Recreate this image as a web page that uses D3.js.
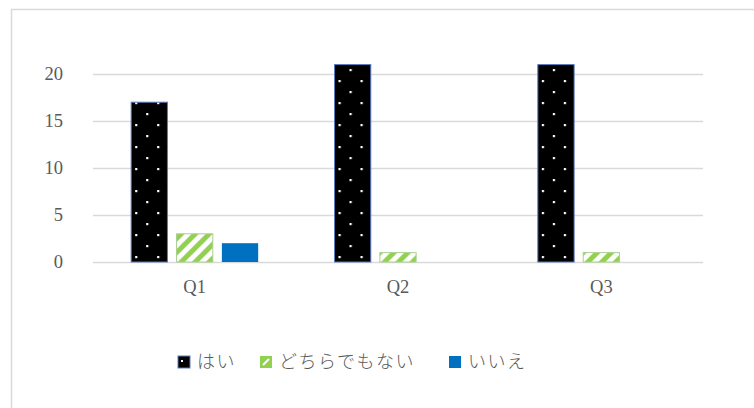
<!DOCTYPE html>
<html>
<head>
<meta charset="utf-8">
<script src="https://cdn.jsdelivr.net/npm/d3@7"></script>
<style>
  body { margin: 0; background: #fff; }
  svg { display: block; }
  .axis text { font-family: "Liberation Serif", "DejaVu Serif", serif; font-size: 18.5px; fill: #595959; }
</style>
</head>
<body>
<svg width="754" height="408"></svg>
<script>
var categories = ["Q1", "Q2", "Q3"];
var seriesNames = ["はい", "どちらでもない", "いいえ"];
var hai = [17, 21, 21];
var dochira = [3, 1, 1];
var iie = [2, 0, 0];
var yTicks = [0, 5, 10, 15, 20];

var data = categories.map(function(c, i) {
  return { cat: c, "はい": hai[i], "どちらでもない": dochira[i], "いいえ": iie[i] };
});

var svg = d3.select("svg"),
    margin = {top: 74, right: 51, bottom: 146, left: 93},
    width = +svg.attr("width") - margin.left - margin.right,
    height = +svg.attr("height") - margin.top - margin.bottom;

// chart frame (only top + left visible in the picture)
svg.append("path")
  .attr("d", "M11.5,408 V9.5 H754")
  .attr("fill", "none")
  .attr("stroke", "#d9d9d9")
  .attr("stroke-width", 1.5);

var defs = svg.append("defs");

// black with white dots
var dots = defs.append("pattern")
  .attr("id", "dots")
  .attr("patternUnits", "userSpaceOnUse")
  .attr("width", 22).attr("height", 22);
dots.append("rect").attr("width", 22).attr("height", 22).attr("fill", "#000");
dots.append("rect").attr("x", 4).attr("y", 6).attr("width", 2.2).attr("height", 2.2).attr("fill", "#fff");
dots.append("rect").attr("x", 15).attr("y", 17).attr("width", 2.2).attr("height", 2.2).attr("fill", "#fff");

// green wide diagonal stripes
var stripes = defs.append("pattern")
  .attr("id", "stripes")
  .attr("patternUnits", "userSpaceOnUse")
  .attr("width", 14).attr("height", 14);
stripes.append("rect").attr("width", 14).attr("height", 14).attr("fill", "#fff");
stripes.append("path")
  .attr("d", "M0,14 L14,0 M-3.5,3.5 L3.5,-3.5 M10.5,17.5 L17.5,10.5")
  .attr("stroke", "#92d050")
  .attr("stroke-width", 5);

var fills = { "はい": "url(#dots)", "どちらでもない": "url(#stripes)", "いいえ": "#0070c0" };
var strokes = { "はい": "#5a7bbd", "どちらでもない": "#a9d18e", "いいえ": "none" };
var legendFills = { "はい": "#000", "どちらでもない": "#92d050", "いいえ": "#0070c0" };

var g = svg.append("g").attr("transform", "translate(" + margin.left + "," + margin.top + ")");

var x0 = d3.scaleBand().domain(categories).range([0, width]);
var x1 = d3.scaleBand().domain(seriesNames).range([0, 127]).paddingInner(0.2);
var y = d3.scaleLinear().domain([0, 20]).range([height, 0]);

// gridlines
g.append("g")
  .selectAll("line")
  .data(yTicks)
  .enter().append("line")
    .attr("x1", 0).attr("x2", width)
    .attr("y1", function(d) { return Math.round(y(d)) + 0.5; })
    .attr("y2", function(d) { return Math.round(y(d)) + 0.5; })
    .attr("stroke", "#d9d9d9")
    .attr("stroke-width", 1.3);

// y axis labels
var yAxis = g.append("g")
  .attr("class", "axis")
  .call(d3.axisLeft(y).tickValues(yTicks).tickSize(0).tickPadding(30));
yAxis.select(".domain").remove();

// bars
var groups = g.append("g")
  .selectAll("g")
  .data(data)
  .enter().append("g")
    .attr("transform", function(d) { return "translate(" + (x0(d.cat) + x0.bandwidth() / 2 - 63.5) + ",0)"; });

groups.selectAll("rect")
  .data(function(d) { return seriesNames.map(function(k) { return {key: k, value: d[k]}; }); })
  .enter().append("rect")
    .filter(function(d) { return d.value > 0; })
    .attr("x", function(d) { return x1(d.key); })
    .attr("y", function(d) { return y(d.value); })
    .attr("width", x1.bandwidth())
    .attr("height", function(d) { return y(0) - y(d.value); })
    .attr("fill", function(d) { return fills[d.key]; })
    .attr("stroke", function(d) { return strokes[d.key]; })
    .attr("stroke-width", 1);

// x axis
var xAxis = g.append("g")
  .attr("class", "axis")
  .attr("transform", "translate(0," + height + ")")
  .call(d3.axisBottom(x0).tickSize(0).tickPadding(18));
xAxis.select(".domain").remove();

// legend
var legendX = [178, 260, 449];
var legend = svg.append("g")
  .selectAll("g")
  .data(seriesNames)
  .enter().append("g")
    .attr("transform", function(d, i) { return "translate(" + legendX[i] + ",356)"; });

legend.append("rect")
  .attr("width", 12).attr("height", 12)
  .attr("fill", function(d) { return legendFills[d]; })
  .attr("stroke", function(d) { return d === "はい" ? "#5a7bbd" : "none"; });

legend.filter(function(d) { return d === "はい"; })
  .append("rect")
  .attr("x", 3).attr("y", 4).attr("width", 2).attr("height", 2).attr("fill", "#fff");

legend.filter(function(d) { return d === "どちらでもない"; })
  .append("path")
  .attr("d", "M3,9 L9,3")
  .attr("stroke", "#fff").attr("stroke-width", 2);

legend.append("text")
  .attr("x", 19)
  .attr("y", 6)
  .attr("dy", "0.36em")
  .attr("font-family", "'Noto Sans CJK JP', sans-serif")
  .attr("font-size", 18)
  .attr("font-weight", 300)
  .attr("letter-spacing", 1.5)
  .attr("fill", "#595959")
  .text(function(d) { return d; });
</script>
</body>
</html>
